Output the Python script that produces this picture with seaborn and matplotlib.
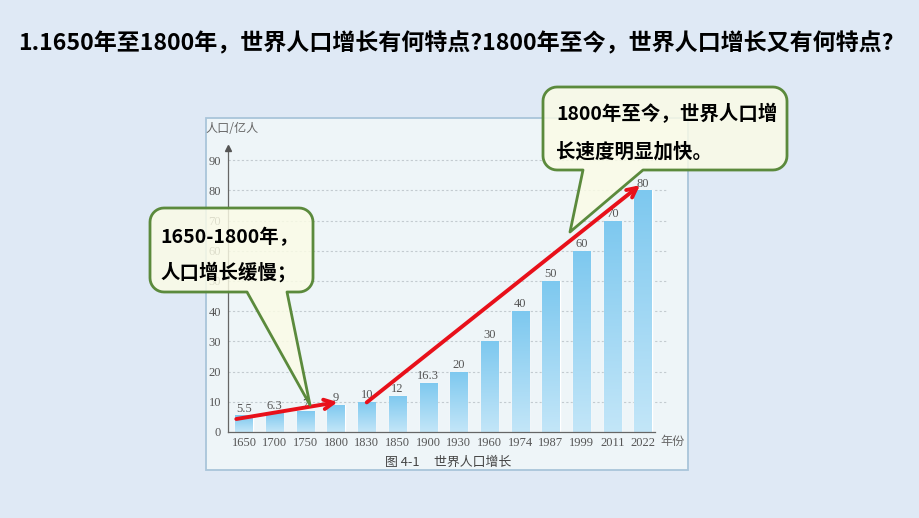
import numpy as np
import matplotlib
matplotlib.use("Agg")
import matplotlib.pyplot as plt
import seaborn as sns
import pandas as pd
from matplotlib.path import Path
from matplotlib.patches import PathPatch, Rectangle
from matplotlib.colors import LinearSegmentedColormap

# ---------------- data ----------------
years = ["1650", "1700", "1750", "1800", "1830", "1850", "1900",
         "1930", "1960", "1974", "1987", "1999", "2011", "2022"]
population = [5.5, 6.3, 7, 9, 10, 12, 16.3, 20, 30, 40, 50, 60, 70, 80]
value_labels = ["5.5", "6.3", "7", "9", "10", "12", "16.3",
                "20", "30", "40", "50", "60", "70", "80"]
y_ticks = [0, 10, 20, 30, 40, 50, 60, 70, 80, 90]
title = "1.1650年至1800年，世界人口增长有何特点?1800年至今，世界人口增长又有何特点?"
note_slow = ["1650-1800年，", "人口增长缓慢；"]
note_fast = ["1800年至今，世界人口增", "长速度明显加快。"]
y_label = "人口/亿人"
x_unit = "年份"
caption = "图 4-1     世界人口增长"

W, H = 920, 518
sns.set_theme(style="white")
plt.rcParams['font.family'] = ['Noto Sans CJK SC', 'DejaVu Sans']

fig = plt.figure(figsize=(9.2, 5.18), dpi=100)
fig.patch.set_facecolor('#dfe9f5')


def fx(x):
    return x / W


def fy(y):
    return 1 - y / H


# inner picture panel
panel = Rectangle((fx(206), fy(470)), fx(688) - fx(206), fy(118) - fy(470),
                  transform=fig.transFigure, facecolor='#eef5f8',
                  edgecolor='#a9c5da', lw=1.3, zorder=-1)
fig.add_artist(panel)

# axes
x_left, x_right = -0.52, 13.8
ax = fig.add_axes([fx(228), fy(432), (667.6 - 228) / W, (432 - 148) / H])
ax.patch.set_alpha(0)

df = pd.DataFrame({"year": years, "pop": population})
sns.barplot(data=df, x="year", y="pop", color="#92d3f3", saturation=1,
            width=0.56, errorbar=None, ax=ax, zorder=2)

# vertical gradient on bars
grad = np.linspace(0, 1, 256).reshape(-1, 1)
cmap = LinearSegmentedColormap.from_list('g', ['#c3e6f8', '#7dc8ef'])
for p in list(ax.patches):
    x0, y0 = p.get_x(), p.get_y()
    w, h = p.get_width(), p.get_height()
    im = ax.imshow(grad, extent=(x0, x0 + w, y0, y0 + h), origin='lower',
                   cmap=cmap, aspect='auto', zorder=2.1)
    im.set_clip_path(p)

ax.set_xlim(x_left, x_right)
ax.set_ylim(0, 94)
ax.set_yticks(y_ticks)
ax.set_xlabel("")
ax.set_ylabel("")

for s in ['top', 'right']:
    ax.spines[s].set_visible(False)
for s in ['left', 'bottom']:
    ax.spines[s].set_color('#666666')
    ax.spines[s].set_linewidth(0.9)
ax.spines['bottom'].set_bounds(x_left, 13.4)
ax.plot(0, 1, marker='^', ms=4, color='#555555', transform=ax.transAxes,
        clip_on=False, zorder=3)

ax.grid(axis='y', linestyle=(0, (2, 2)), color='#c3cbd0', lw=0.8)
ax.set_axisbelow(True)
ax.get_ygridlines()[0].set_visible(False)

ax.tick_params(axis='both', length=0, labelsize=9, labelcolor='#555555')
ax.tick_params(axis='y', pad=5)
ax.tick_params(axis='x', pad=3.5)
for lab in ax.get_xticklabels() + ax.get_yticklabels():
    lab.set_family('Liberation Serif')

for i, (v, lab) in enumerate(zip(population, value_labels)):
    ax.annotate(lab, (i, v), xytext=(0, 0.5), textcoords='offset points',
                ha='center', va='bottom', fontsize=9, color='#555555',
                family='Liberation Serif', zorder=3)

# red trend arrows
red = '#e8101a'
ax.annotate('', xy=(3.05, population[3] + 0.9), xytext=(-0.25, population[0] - 1.2),
            arrowprops=dict(arrowstyle='->', color=red, lw=2.8,
                            mutation_scale=17, shrinkA=0, shrinkB=0), zorder=4)
ax.annotate('', xy=(12.9, population[13] + 1.7), xytext=(4.0, population[4] - 0.2),
            arrowprops=dict(arrowstyle='->', color=red, lw=2.8,
                            mutation_scale=17, shrinkA=0, shrinkB=0), zorder=4)

# text labels in panel
fig.text(fx(206), fy(128), y_label, fontsize=8.7, color='#666666',
         ha='left', va='center')
fig.text(fx(660), fy(441), x_unit, fontsize=8.7, color='#666666',
         ha='left', va='center')
fig.text(fx(448), fy(462), caption, fontsize=9.3, color='#444444',
         ha='center', va='center')

# title
fig.text(fx(18), fy(44), title, fontsize=16.6, fontweight='bold',
         color='black', ha='left', va='center')


# callouts
def callout(x0, y0, x1, y1, r, tl, tr, tip):
    pts = []

    def arc(cx, cy, a0, a1):
        t = np.radians(np.linspace(a0, a1, 10))
        return [(cx + r * np.cos(a), cy + r * np.sin(a)) for a in t]
    pts.append((x0 + r, y0))
    pts += arc(x1 - r, y0 + r, -90, 0)
    pts += arc(x1 - r, y1 - r, 0, 90)
    pts.append((tr, y1))
    pts.append(tip)
    pts.append((tl, y1))
    pts += arc(x0 + r, y1 - r, 90, 180)
    pts += arc(x0 + r, y0 + r, 180, 270)
    pts.append((x0 + r, y0))
    verts = [(fx(a), fy(b)) for a, b in pts]
    codes = [Path.MOVETO] + [Path.LINETO] * (len(verts) - 2) + [Path.CLOSEPOLY]
    patch = PathPatch(Path(verts, codes), transform=fig.transFigure,
                      facecolor=(0.99, 0.99, 0.90, 0.82), edgecolor='#5b8a3c',
                      lw=2, joinstyle='round', zorder=5)
    fig.add_artist(patch)


callout(150, 208, 313, 292, 14, 247, 287, (310, 405))
callout(543, 87, 787, 170, 14, 583, 643, (570, 232))

for txt, y in zip(note_slow, [237, 272]):
    fig.text(fx(160), fy(y), txt, fontsize=14, fontweight='bold',
             color='black', ha='left', va='center', zorder=6)
for txt, y in zip(note_fast, [114, 152]):
    fig.text(fx(556), fy(y), txt, fontsize=14, fontweight='bold',
             color='black', ha='left', va='center', zorder=6)

fig.savefig("out.png", dpi=100, facecolor=fig.get_facecolor())
